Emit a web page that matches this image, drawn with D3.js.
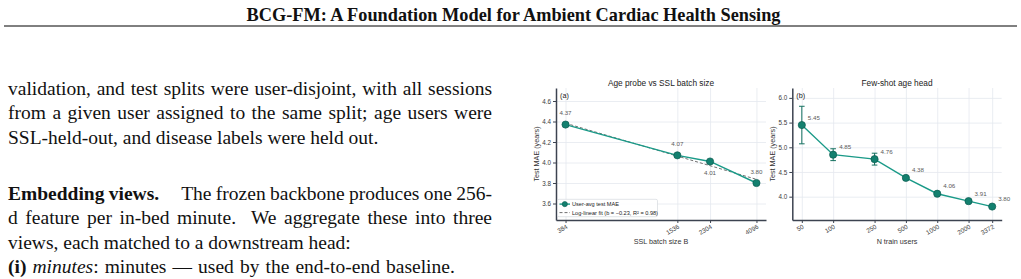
<!DOCTYPE html>
<html>
<head>
<meta charset="utf-8">
<script src="https://cdn.jsdelivr.net/npm/d3@7"></script>
<style>
  html, body { margin: 0; padding: 0; background: #fff; }
  svg { display: block; }
  .serif { font-family: "Liberation Serif", "Times New Roman", serif; fill: #111; }
  .sans { font-family: "Liberation Sans", Arial, Helvetica, sans-serif; }
  .grid line { stroke: #e4e8ef; stroke-width: 0.8; }
  .grid .domain { display: none; }
  .axis .domain { stroke: #3c4350; stroke-width: 1.5; }
  .axis line { stroke: #3c4350; stroke-width: 1; }
  .axis text { fill: #3a3a3a; font-size: 6.3px; }
</style>
</head>
<body>
<div id="page"></div>
<script>
// ---- page text ----
const headerText = "BCG-FM: A Foundation Model for Ambient Cardiac Health Sensing";

const bodyLines = [
  { y: 95,    right: 492, parts: [{ t: "validation, and test splits were user-disjoint, with all sessions" }] },
  { y: 119.3, right: 492, parts: [{ t: "from a given user assigned to the same split; age users were" }] },
  { y: 143.6, parts: [{ t: "SSL-held-out, and disease labels were held out." }] },
  { y: 200,   right: 492, parts: [{ t: "Embedding views.", w: "bold" }, { t: "The frozen backbone produces one 256-", dx: 22 }] },
  { y: 224.3, right: 492, parts: [{ t: "d feature per in-bed minute.\u00a0 We aggregate these into three" }] },
  { y: 248.6, parts: [{ t: "views, each matched to a downstream head:" }] },
  { y: 273,   right: 455, parts: [{ t: "(i)", w: "bold" }, { t: " " }, { t: "minutes", s: "italic" }, { t: ": minutes \u2014 used by the end-to-end baseline." }] }
];

// ---- panel (a): age probe vs SSL batch size ----
const batchSizes = [384, 1536, 2304, 4096];
const batchMAE = [4.37, 4.07, 4.01, 3.80];
const batchLabelPos = ["above", "above", "below", "above"];
const batchYTicks = [3.6, 3.8, 4.0, 4.2, 4.4, 4.6];
const fitLegend = "Log-linear fit (b = \u22120.23, R\u00b2 = 0.98)";

// ---- panel (b): few-shot age head ----
const trainUsers = [50, 100, 250, 500, 1000, 2000, 3372];
const fewShotMAE = [5.45, 4.85, 4.76, 4.38, 4.06, 3.91, 3.80];
const fewShotErr = [0.38, 0.12, 0.12, 0, 0, 0, 0];
const fewShotYTicks = [4.0, 4.5, 5.0, 5.5, 6.0];

const LINE = "#1a9a88";
const MARK = "#13806f";
const EDGE = "#0b5a4f";

const W = 1021, H = 279;
const svg = d3.select("#page").append("svg").attr("width", W).attr("height", H);
svg.append("rect").attr("width", W).attr("height", H).attr("fill", "#fff");

// header
svg.append("text").attr("class", "serif")
  .attr("x", 513.5).attr("y", 20.5)
  .attr("text-anchor", "middle")
  .style("font-size", "18.3px").style("font-weight", "bold")
  .text(headerText);
svg.append("line").attr("x1", 4).attr("x2", 1017).attr("y1", 26).attr("y2", 26)
  .attr("stroke", "#000").attr("stroke-width", 1);

// body column
const colLeft = 8;
bodyLines.forEach(line => {
  const t = svg.append("text").attr("class", "serif")
    .attr("x", colLeft).attr("y", line.y)
    .style("font-size", "19.5px");
  line.parts.forEach(p => {
    const ts = t.append("tspan").text(p.t);
    if (p.w) ts.style("font-weight", p.w);
    if (p.s) ts.style("font-style", p.s);
    if (p.dx) ts.attr("dx", p.dx);
  });
  if (line.right) {
    const spaces = line.parts.map(p => p.t).join(" ").split(/[ \u00a0]/).length - 1;
    for (let k = 0; k < 3; k++) {
      const bb = t.node().getBBox();
      const cur = parseFloat(t.style("word-spacing")) || 0;
      t.style("word-spacing", (cur + (line.right - colLeft - bb.width) / spaces) + "px");
    }
  }
});

// ---- shared panel drawing ----
function drawPanel(cfg) {
  const g = svg.append("g").attr("class", "sans");
  const x = cfg.x, y = cfg.y;
  const [x0, x1] = x.range();
  const [y0, y1] = y.range();

  g.append("g").attr("class", "grid").attr("transform", `translate(0,${y0})`)
    .call(d3.axisBottom(x).tickValues(cfg.xTicks).tickSize(-(y0 - y1)).tickFormat(""));
  g.append("g").attr("class", "grid").attr("transform", `translate(${x0},0)`)
    .call(d3.axisLeft(y).tickValues(cfg.yTicks).tickSize(-(x1 - x0)).tickFormat(""));

  const xa = g.append("g").attr("class", "axis").attr("transform", `translate(0,${y0})`)
    .call(d3.axisBottom(x).tickValues(cfg.xTicks).tickSize(3).tickSizeOuter(0).tickFormat(d3.format("d")));
  xa.selectAll("text")
    .attr("text-anchor", "end")
    .attr("dy", 0).attr("y", 0)
    .attr("transform", "translate(2,8) rotate(-30)");

  g.append("g").attr("class", "axis").attr("transform", `translate(${x0},0)`)
    .call(d3.axisLeft(y).tickValues(cfg.yTicks).tickSize(3).tickSizeOuter(0).tickFormat(d3.format(".1f")))
    .selectAll("text").attr("x", -5);

  g.append("text").attr("x", (x0 + x1) / 2).attr("y", 85.8)
    .attr("text-anchor", "middle").style("font-size", "8.3px").attr("fill", "#222")
    .text(cfg.title);
  g.append("text").attr("x", (x0 + x1) / 2).attr("y", 243.5)
    .attr("text-anchor", "middle").style("font-size", "7.2px").attr("fill", "#333")
    .text(cfg.xLabel);
  g.append("text")
    .attr("transform", `translate(${cfg.yLabelX},${(y0 + y1) / 2}) rotate(-90)`)
    .attr("text-anchor", "middle").style("font-size", "7.2px").attr("fill", "#333")
    .text("Test MAE (years)");
  g.append("text").attr("x", x0 + 4).attr("y", 98)
    .style("font-size", "7.2px").attr("fill", "#222").text(cfg.tag);
  return g;
}

function logDomain(vals, pad) {
  const lo = Math.log(d3.min(vals)), hi = Math.log(d3.max(vals));
  const m = (hi - lo) * pad;
  return [Math.exp(lo - m), Math.exp(hi + m)];
}

// ---- panel (a) ----
const xA = d3.scaleLog().domain(logDomain(batchSizes, 0.05)).range([556, 766]);
const yA = d3.scaleLinear().domain([3.439, 4.727]).range([220, 88]);
const gA = drawPanel({ x: xA, y: yA, xTicks: batchSizes, yTicks: batchYTicks,
  title: "Age probe vs SSL batch size", xLabel: "SSL batch size B", yLabelX: 539, tag: "(a)" });

const ptsA = batchSizes.map((b, i) => ({ b, v: batchMAE[i], pos: batchLabelPos[i] }));

// log-linear least-squares fit on the plotted values
const lx = ptsA.map(d => Math.log(d.b));
const mx = d3.mean(lx), my = d3.mean(batchMAE);
const slope = d3.sum(lx, (v, i) => (v - mx) * (batchMAE[i] - my)) / d3.sum(lx, v => (v - mx) * (v - mx));
const icpt = my - slope * mx;
gA.append("path")
  .datum(batchSizes)
  .attr("d", d3.line().x(d => xA(d)).y(d => yA(icpt + slope * Math.log(d))))
  .attr("fill", "none").attr("stroke", "#707070").attr("stroke-width", 1)
  .attr("stroke-dasharray", "3,2");

gA.append("path").datum(ptsA)
  .attr("d", d3.line().x(d => xA(d.b)).y(d => yA(d.v)))
  .attr("fill", "none").attr("stroke", LINE).attr("stroke-width", 1.4);
gA.selectAll(".ptA").data(ptsA).enter().append("circle")
  .attr("cx", d => xA(d.b)).attr("cy", d => yA(d.v)).attr("r", 3.6)
  .attr("fill", MARK).attr("stroke", EDGE).attr("stroke-width", 0.7);
gA.selectAll(".lblA").data(ptsA).enter().append("text")
  .attr("x", d => xA(d.b)).attr("y", d => yA(d.v) + (d.pos === "above" ? -9.5 : 14))
  .attr("text-anchor", "middle").style("font-size", "6.2px").attr("fill", "#5a5a5a")
  .text(d => d.v.toFixed(2));

// legend
const lg = gA.append("g").attr("transform", "translate(557.5,199.3)");
lg.append("rect").attr("width", 100).attr("height", 17.4).attr("rx", 1.5)
  .attr("fill", "#fff").attr("fill-opacity", 0.9).attr("stroke", "#cfd3d8").attr("stroke-width", 0.6);
lg.append("line").attr("x1", 2).attr("x2", 12.5).attr("y1", 4.8).attr("y2", 4.8)
  .attr("stroke", LINE).attr("stroke-width", 1.4);
lg.append("circle").attr("cx", 7.3).attr("cy", 4.8).attr("r", 2.6)
  .attr("fill", MARK).attr("stroke", EDGE).attr("stroke-width", 0.6);
lg.append("line").attr("x1", 2).attr("x2", 12.5).attr("y1", 13.3).attr("y2", 13.3)
  .attr("stroke", "#707070").attr("stroke-width", 1).attr("stroke-dasharray", "3,2");
lg.append("text").attr("x", 14.5).attr("y", 6.8).style("font-size", "5.6px").attr("fill", "#222")
  .text("User-avg test MAE");
lg.append("text").attr("x", 14.5).attr("y", 15.3).style("font-size", "5.6px").attr("fill", "#222")
  .text(fitLegend);

// ---- panel (b) ----
const xB = d3.scaleLog().domain(logDomain(trainUsers, 0.05)).range([792.3, 1001.7]);
const yB = d3.scaleLinear().domain([3.528, 6.2]).range([220, 88]);
const gB = drawPanel({ x: xB, y: yB, xTicks: trainUsers, yTicks: fewShotYTicks,
  title: "Few-shot age head", xLabel: "N train users", yLabelX: 775, tag: "(b)" });

const ptsB = trainUsers.map((n, i) => ({ n, v: fewShotMAE[i], e: fewShotErr[i] }));
const eb = gB.selectAll(".errB").data(ptsB.filter(d => d.e > 0)).enter().append("g")
  .attr("stroke", "#14705f").attr("stroke-width", 1);
eb.append("line").attr("x1", d => xB(d.n)).attr("x2", d => xB(d.n))
  .attr("y1", d => yB(d.v - d.e)).attr("y2", d => yB(d.v + d.e));
eb.append("line").attr("x1", d => xB(d.n) - 2.8).attr("x2", d => xB(d.n) + 2.8)
  .attr("y1", d => yB(d.v - d.e)).attr("y2", d => yB(d.v - d.e));
eb.append("line").attr("x1", d => xB(d.n) - 2.8).attr("x2", d => xB(d.n) + 2.8)
  .attr("y1", d => yB(d.v + d.e)).attr("y2", d => yB(d.v + d.e));

gB.append("path").datum(ptsB)
  .attr("d", d3.line().x(d => xB(d.n)).y(d => yB(d.v)))
  .attr("fill", "none").attr("stroke", LINE).attr("stroke-width", 1.4);
gB.selectAll(".ptB").data(ptsB).enter().append("circle")
  .attr("cx", d => xB(d.n)).attr("cy", d => yB(d.v)).attr("r", 3.6)
  .attr("fill", MARK).attr("stroke", EDGE).attr("stroke-width", 0.7);
gB.selectAll(".lblB").data(ptsB).enter().append("text")
  .attr("x", d => xB(d.n) + 6).attr("y", d => yB(d.v) - 5.5)
  .style("font-size", "6.2px").attr("fill", "#5a5a5a")
  .text(d => d.v.toFixed(2));
</script>
</body>
</html>
